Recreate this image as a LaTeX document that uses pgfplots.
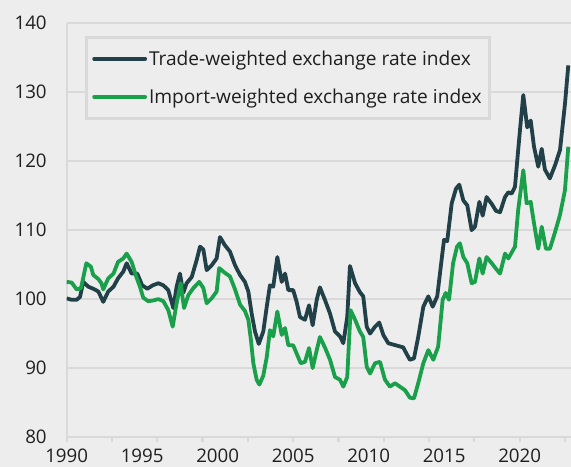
\documentclass[border=0pt]{standalone}
\usepackage{pgfplots}
\pgfplotsset{compat=1.18}
\usepackage{fontspec}
\setmainfont{Open Sans}
\definecolor{bg}{RGB}{237,237,237}
\definecolor{gridc}{RGB}{217,217,217}
\definecolor{darkline}{RGB}{33,64,72}
\definecolor{greenline}{RGB}{26,160,74}
\begin{document}
\begin{tikzpicture}
\fill[bg] (-66.7bp,-30bp) rectangle (504.3bp,437bp);
\begin{axis}[
 at={(0,0)}, anchor=south west,
 scale only axis, width=504.3bp, height=413.7bp,
 xmin=1990, xmax=2023.4, ymin=80, ymax=140,
 axis lines*=left,
 axis line style={draw=gridc, line width=2.2bp},
 ytick={80,90,...,140},
 ymajorgrids, grid style={draw=gridc, line width=2.2bp},
 xtick={1990,1995,...,2020},
 major tick length=0pt,
 extra x ticks={1990,1993,...,2023},
 extra x tick labels={},
 extra x tick style={major tick length=5bp, tick align=outside, tick style={draw=gridc, line width=2.2bp}},
 /pgf/number format/assume math mode=true,
 /pgf/number format/1000 sep={},
 ticklabel style={font=\fontsize{18.8}{22}\selectfont, text=black!88},
 yticklabel style={xshift=-16.5bp},
 xticklabel style={yshift=-8.5bp},
 legend style={at={(0.0363,0.969)}, anchor=north west, draw=gridc, line width=2.5bp, fill=bg,
   font=\fontsize{19.2}{22}\selectfont, text=black!88, inner xsep=6bp, inner ysep=11.5bp, row sep=18bp},
 legend cell align=left,
 legend image code/.code={\draw[#1, line cap=round] (0bp,0bp) -- (51bp,0bp);},
 every axis plot/.append style={line width=3.8bp, line join=round},
]
\addplot[darkline] coordinates {
(1990.00,100.1)(1990.33,99.9)(1990.66,99.9)(1990.88,100.3)(1991.10,102.5)(1991.43,101.8)(1991.76,101.5)
(1992.10,101.1)(1992.42,99.6)(1992.75,101.1)(1993.10,101.8)(1993.40,103.0)(1993.75,104.0)(1993.97,105.2)
(1994.30,103.7)(1994.67,103.7)(1995.00,102.0)(1995.34,101.5)(1995.70,102.0)(1996.07,102.3)(1996.40,102.0)
(1996.73,101.3)(1997.06,98.7)(1997.28,101.8)(1997.50,103.7)(1997.72,100.9)(1997.94,102.3)(1998.28,103.2)
(1998.60,105.6)(1998.83,107.6)(1999.05,107.2)(1999.27,104.2)(1999.60,104.9)(1999.93,105.9)(2000.15,109.0)
(2000.48,107.8)(2000.81,106.9)(2001.15,104.9)(2001.48,103.5)(2001.80,102.5)(2002.03,101.1)(2002.25,97.9)
(2002.47,95.3)(2002.72,93.5)(2003.02,95.3)(2003.25,98.9)(2003.46,102.0)(2003.68,101.8)(2003.95,106.1)
(2004.24,102.5)(2004.46,103.7)(2004.68,101.3)(2005.00,101.3)(2005.23,99.6)(2005.45,97.4)(2005.78,97.0)
(2006.05,99.1)(2006.29,96.2)(2006.56,99.9)(2006.77,101.7)(2007.10,99.9)(2007.44,97.9)(2007.77,95.3)
(2008.10,94.6)(2008.32,93.6)(2008.58,97.4)(2008.76,104.8)(2009.10,102.3)(2009.42,101.0)(2009.64,100.4)
(2009.87,96.0)(2010.09,95.0)(2010.42,96.0)(2010.70,96.6)(2010.97,94.8)(2011.30,93.6)(2011.63,93.4)
(2011.96,93.2)(2012.29,93.0)(2012.50,92.1)(2012.73,91.2)(2013.00,91.4)(2013.28,94.5)(2013.62,98.9)
(2013.95,100.4)(2014.24,98.9)(2014.54,100.4)(2014.83,105.7)(2014.99,108.6)(2015.20,108.4)(2015.50,113.9)
(2015.78,116.0)(2016.00,116.6)(2016.27,114.3)(2016.53,113.6)(2016.82,110.0)(2017.04,110.5)(2017.33,114.1)
(2017.55,112.1)(2017.81,114.8)(2018.15,113.8)(2018.43,112.8)(2018.70,112.6)(2019.03,114.8)(2019.25,115.5)
(2019.47,115.3)(2019.69,116.3)(2019.84,120.1)(2020.02,124.5)(2020.24,129.6)(2020.50,124.9)(2020.73,125.9)
(2020.95,122.1)(2021.23,119.2)(2021.46,121.8)(2021.67,118.8)(2022.00,117.5)(2022.34,119.4)(2022.67,121.6)
(2023.00,128.3)(2023.22,133.9)
};
\addlegendentry{Trade-weighted exchange rate index}
\addplot[greenline] coordinates {
(1990.00,102.5)(1990.33,102.4)(1990.66,101.4)(1990.95,101.6)(1991.30,105.2)(1991.60,104.7)(1991.76,103.5)
(1992.10,102.9)(1992.30,102.3)(1992.42,101.4)(1992.75,103.0)(1993.10,103.7)(1993.40,105.4)(1993.75,105.9)
(1993.97,106.6)(1994.30,105.4)(1994.60,103.3)(1994.85,101.8)(1995.07,100.2)(1995.40,99.7)(1995.73,99.8)
(1996.07,100.0)(1996.40,99.7)(1996.73,98.4)(1997.02,96.0)(1997.28,99.4)(1997.55,102.3)(1997.77,98.7)
(1998.06,100.6)(1998.39,101.6)(1998.78,102.5)(1999.05,101.6)(1999.27,99.4)(1999.60,100.1)(1999.93,101.1)
(2000.10,104.5)(2000.48,103.8)(2000.81,103.3)(2001.15,101.4)(2001.48,99.2)(2001.80,98.3)(2002.03,97.0)
(2002.20,94.1)(2002.36,90.7)(2002.58,88.3)(2002.76,87.6)(2003.02,88.9)(2003.25,91.6)(2003.46,95.5)
(2003.68,94.6)(2003.95,98.2)(2004.24,94.8)(2004.46,95.8)(2004.68,93.3)(2005.00,93.3)(2005.23,92.1)
(2005.50,90.7)(2005.78,90.9)(2006.05,92.9)(2006.29,90.0)(2006.56,92.6)(2006.77,94.5)(2007.10,93.0)
(2007.44,91.2)(2007.77,88.7)(2008.10,88.3)(2008.32,87.3)(2008.58,88.7)(2008.80,98.4)(2009.10,97.0)
(2009.42,95.3)(2009.64,94.5)(2009.87,90.2)(2010.09,89.2)(2010.42,90.7)(2010.75,90.9)(2011.08,88.3)
(2011.41,87.3)(2011.74,87.8)(2012.07,87.3)(2012.40,86.8)(2012.73,85.7)(2013.00,85.6)(2013.28,87.8)
(2013.62,90.7)(2013.95,92.6)(2014.28,91.2)(2014.60,93.1)(2014.90,99.9)(2015.10,100.9)(2015.32,99.9)
(2015.59,105.2)(2015.85,107.6)(2016.04,108.1)(2016.27,106.1)(2016.53,105.2)(2016.82,102.3)(2017.04,102.5)
(2017.33,105.9)(2017.55,103.7)(2017.81,106.1)(2018.15,105.2)(2018.43,104.4)(2018.70,103.7)(2019.03,106.6)
(2019.25,105.9)(2019.56,107.1)(2019.69,107.6)(2019.90,112.9)(2020.24,118.7)(2020.46,113.9)(2020.73,114.1)
(2020.95,111.0)(2021.23,107.3)(2021.46,110.5)(2021.74,107.3)(2022.00,107.3)(2022.34,109.7)(2022.67,112.2)
(2023.00,115.8)(2023.22,122.1)
};
\addlegendentry{Import-weighted exchange rate index\hspace{8bp}}
\end{axis}
\pgfresetboundingbox
\path (-66.7bp,-30bp) rectangle (504.3bp,437bp);
\end{tikzpicture}
\end{document}
